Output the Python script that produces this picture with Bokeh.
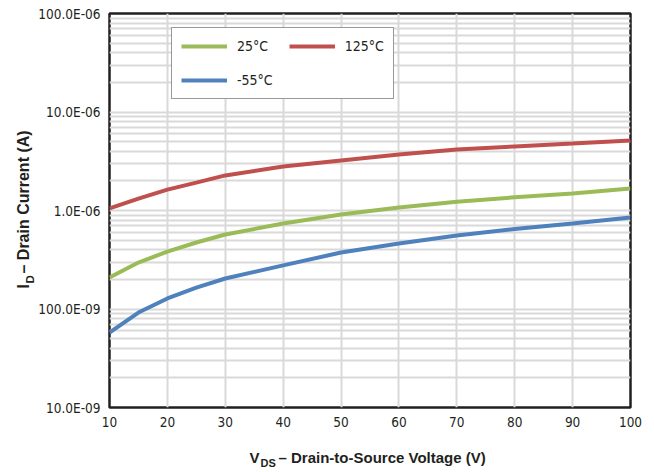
import math
from bokeh.plotting import figure
from bokeh.layouts import row, column
from bokeh.models import (FixedTicker, Legend, LegendItem, Label, Range1d)
from bokeh.embed import file_html
from bokeh.resources import INLINE

vds = [10, 15, 20, 25, 30, 40, 50, 60, 70, 80, 90, 100]
id_25 = [2.09e-7, 2.96e-7, 3.83e-7, 4.73e-7, 5.70e-7, 7.38e-7, 9.1e-7, 1.07e-6, 1.23e-6, 1.36e-6, 1.49e-6, 1.67e-6]
id_125 = [1.05e-6, 1.32e-6, 1.63e-6, 1.92e-6, 2.27e-6, 2.80e-6, 3.22e-6, 3.70e-6, 4.16e-6, 4.47e-6, 4.79e-6, 5.14e-6]
id_m55 = [5.77e-8, 9.2e-8, 1.28e-7, 1.65e-7, 2.04e-7, 2.77e-7, 3.75e-7, 4.62e-7, 5.57e-7, 6.50e-7, 7.38e-7, 8.5e-7]

series_names = ["25\u00b0C", "125\u00b0C", "-55\u00b0C"]
series_colors = ["#9bbb59", "#c0504d", "#4f81bd"]

x_ticks = [10, 20, 30, 40, 50, 60, 70, 80, 90, 100]
y_ticks = [1e-8, 1e-7, 1e-6, 1e-5, 1e-4]
y_tick_labels = ["10.0E-09", "100.0E-09", "1.0E-06", "10.0E-06", "100.0E-06"]
y_minor = [m * d for d in [1e-8, 1e-7, 1e-6, 1e-5] for m in range(2, 10)]

FONT = "'Liberation Sans Narrow', 'DejaVu Sans Condensed', sans-serif"
FONT_B = "'Liberation Sans', sans-serif"
INK = "#231f20"

p = figure(width=619, height=432, y_axis_type="log", output_backend="svg",
           toolbar_location=None,
           x_range=Range1d(10, 100), y_range=Range1d(1e-8, 1e-4),
           min_border_left=70, min_border_right=24, min_border_top=13, min_border_bottom=25)
p.background_fill_color = "white"
p.border_fill_color = "white"
p.outline_line_color = INK
p.outline_line_width = 2.5

p.xaxis.ticker = FixedTicker(ticks=x_ticks)
p.yaxis.ticker = FixedTicker(ticks=y_ticks, minor_ticks=y_minor)
p.yaxis.major_label_overrides = dict(zip(y_ticks, y_tick_labels))

for ax in (p.xaxis[0], p.yaxis[0]):
    ax.axis_line_color = None
    ax.major_tick_line_color = None
    ax.minor_tick_line_color = None
    ax.major_tick_out = 0
    ax.major_tick_in = 0
    ax.minor_tick_out = 0
    ax.minor_tick_in = 0
    ax.major_label_text_font = FONT
    ax.major_label_text_font_size = "13.5px"
    ax.major_label_text_color = INK
p.xaxis.major_label_standoff = 9
p.yaxis.major_label_standoff = 9

p.xgrid.grid_line_color = "#d9d9d9"
p.xgrid.grid_line_width = 2
p.ygrid.grid_line_color = "#d9d9d9"
p.ygrid.grid_line_width = 2
p.ygrid.minor_grid_line_color = "#d9d9d9"
p.ygrid.minor_grid_line_width = 2

r25 = p.line(vds, id_25, line_color=series_colors[0], line_width=4)
r125 = p.line(vds, id_125, line_color=series_colors[1], line_width=4)
rm55 = p.line(vds, id_m55, line_color=series_colors[2], line_width=4)

legend = Legend(items=[LegendItem(label=series_names[0], renderers=[r25]),
                       LegendItem(label=series_names[1], renderers=[r125]),
                       LegendItem(label=series_names[2], renderers=[rm55])],
                orientation="horizontal", ncols=2,
                location=(62, 308))
legend.glyph_width = 46
legend.glyph_height = 18
legend.label_width = 30
legend.label_standoff = 10
legend.spacing = 16
legend.padding = 9
legend.margin = 0
legend.label_text_font = FONT
legend.label_text_font_size = "14px"
legend.label_text_color = INK
legend.border_line_color = "#333333"
legend.border_line_width = 1.5
legend.background_fill_alpha = 1
p.add_layout(legend, "center")


def title_panel(w, h):
    f = figure(width=w, height=h, output_backend="svg", toolbar_location=None,
               x_axis_location=None, y_axis_location=None,
               x_range=Range1d(0, 1), y_range=Range1d(0, 1),
               min_border=0, min_border_left=0, min_border_right=0,
               min_border_top=0, min_border_bottom=0)
    f.outline_line_color = None
    f.background_fill_color = "white"
    f.border_fill_color = "white"
    f.grid.visible = False
    return f


lab_kw = dict(x_units="screen", y_units="screen", text_font=FONT_B, text_font_style="bold",
              text_color=INK, text_baseline="alphabetic", text_align="left")

# x-axis title (below the plot); its frame is aligned with the plot frame
xt = title_panel(619, 40)
xt.add_layout(Label(x=140, y=15, text="V", text_font_size="15px", **lab_kw))
xt.add_layout(Label(x=151, y=10, text="DS", text_font_size="11px", **lab_kw))
xt.add_layout(Label(x=169, y=15, text="\u2013 Drain-to-Source Voltage (V)", text_font_size="15px", **lab_kw))

# y-axis title (left of the plot)
yt = title_panel(35, 472)
yt.add_layout(Label(x=22.5, y=184, text="I", angle=math.pi/2, text_font_size="16px", **lab_kw))
yt.add_layout(Label(x=29, y=189, text="D", angle=math.pi/2, text_font_size="11.5px", **lab_kw))
yt.add_layout(Label(x=22.5, y=199, text="\u2013 Drain Current (A)", angle=math.pi/2, text_font_size="16px", **lab_kw))

layout = row(yt, column(p, xt, spacing=0), spacing=0)

open("out.html", "w").write(file_html(layout, INLINE))
